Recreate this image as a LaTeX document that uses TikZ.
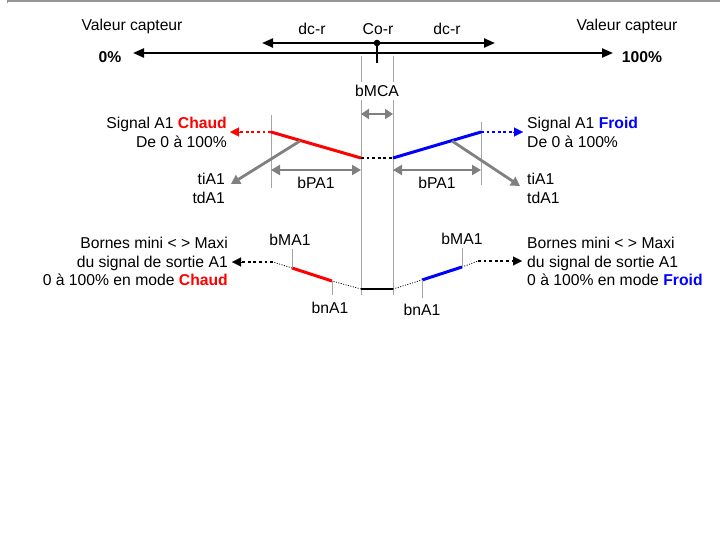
\documentclass[tikz,border=0pt]{standalone}
\usepackage{fontspec}
\setmainfont{Liberation Sans}
\usetikzlibrary{arrows.meta}
\definecolor{hotred}{RGB}{255,0,0}
\definecolor{coldblue}{RGB}{0,0,255}
\definecolor{dimgraytone}{RGB}{128,128,128}
\definecolor{guidegray}{RGB}{165,165,165}
\definecolor{framegray}{RGB}{150,150,150}
\newcommand{\lbl}{\fontsize{15.7}{18.8}\selectfont}
\tikzset{
  txt/.style={inner sep=0pt, font=\lbl},
  axisline/.style={line width=2.2pt},
  guide/.style={draw=guidegray, line width=0.9pt},
  dimline/.style={draw=dimgraytone, line width=2.8pt},
  ramp/.style={line width=3pt},
  dotsthick/.style={line width=2.8pt, dash pattern=on 2.8pt off 2.8pt},
  dotsthin/.style={line width=0.8pt, dash pattern=on 1pt off 1.5pt},
  tickmark/.style={draw=guidegray, line width=0.9pt},
}
\begin{document}
\begin{tikzpicture}[x=1pt,y=-1pt]
\useasboundingbox (0,0) rectangle (720,541);
% frame edge
\draw[framegray, line width=2pt] (7,1) -- (720,1);
\draw[framegray, line width=1pt] (7,0) -- (7,3);

% sensor axis
\coordinate (a0) at (133,53);
\coordinate (a100) at (613,53);
\draw[axisline, {Triangle[length=11pt,width=9pt]}-{Triangle[length=11pt,width=9pt]}] (a0) -- (a100);
\node[txt, font=\lbl\bfseries] (p0) at (110,57) {0\%};
\node[txt, font=\lbl\bfseries] (p100) at (642,57) {100\%};
\node[txt] (vl) at (132,26) {Valeur capteur};
\node[txt] (vr) at (627,26) {Valeur capteur};

% set point and differential
\coordinate (dcl) at (262,43);
\coordinate (dcr) at (495,43);
\coordinate (cor) at (377,43);
\coordinate (cort) at (377,63);
\draw[axisline, {Triangle[length=11pt,width=9pt]}-{Triangle[length=11pt,width=9pt]}] (dcl) -- (dcr);
\draw[line width=2.5pt] (cor) -- (cort);
\fill (cor) circle (3.3pt);
\node[txt] (lcor) at (378,29) {Co-r};
\node[txt] (ldcl) at (312,29) {dc-r};
\node[txt] (ldcr) at (447,29) {dc-r};

% dead band guides
\coordinate (g1t) at (361,56);
\coordinate (g1b) at (361,295);
\coordinate (g2t) at (393,56);
\coordinate (g2b) at (393,295);
\draw[guide] (g1t) -- (g1b);
\draw[guide] (g2t) -- (g2b);
\node[txt, fill=white, inner xsep=1pt, inner ysep=3pt] (bmca) at (377,91) {bMCA};
\coordinate (bm1) at (361,114);
\coordinate (bm2) at (393,114);
\draw[dimline, {Triangle[length=8pt,width=10pt]}-{Triangle[length=8pt,width=10pt]}] (bm1) -- (bm2);

% heating ramp
\coordinate (h0) at (271,132);
\coordinate (h1) at (361,158);
\coordinate (c0) at (393,158);
\coordinate (c1) at (481,132);
\draw[dotsthick] (h1) -- (c0);
\draw[guide] (271,115) -- (271,188);
\draw[hotred, ramp] (h0) -- (h1);
\coordinate (htip) at (230,132);
\draw[hotred, dotsthick] (h0) -- (240,132);
\draw[hotred, -{Triangle[length=9pt,width=9pt]}, line width=0.1pt] (240,132) -- (htip);
\node[txt, align=right, anchor=east] (sh) at (227,132.5) {Signal A1 \textcolor{hotred}{\bfseries Chaud}\\De 0 à 100\%};
\coordinate (hts) at (300,141);
\coordinate (hte) at (231,184);
\draw[dimline, -{Triangle[length=9pt,width=10pt]}] (hts) -- (hte);
\node[txt, align=right, anchor=east] (tih) at (225,188.5) {tiA1\\tdA1};
\coordinate (bph1) at (271,170);
\coordinate (bph2) at (361,170);
\draw[dimline, {Triangle[length=9pt,width=10pt]}-{Triangle[length=9pt,width=10pt]}] (bph1) -- (bph2);
\node[txt] (lbph) at (316,183) {bPA1};

% cooling ramp
\draw[guide] (481,122) -- (481,185);
\draw[coldblue, ramp] (c0) -- (c1);
\coordinate (ctip) at (523,132);
\draw[coldblue, dotsthick] (c1) -- (513,132);
\draw[coldblue, -{Triangle[length=9pt,width=9pt]}, line width=0.1pt] (513,132) -- (ctip);
\node[txt, align=left, anchor=west] (sc) at (527,132.5) {Signal A1 \textcolor{coldblue}{\bfseries Froid}\\De 0 à 100\%};
\coordinate (cts) at (452,141);
\coordinate (cte) at (520,186);
\draw[dimline, -{Triangle[length=9pt,width=10pt]}] (cts) -- (cte);
\node[txt, align=left, anchor=west] (tic) at (527,188.5) {tiA1\\tdA1};
\coordinate (bpc1) at (393,170);
\coordinate (bpc2) at (481,170);
\draw[dimline, {Triangle[length=9pt,width=10pt]}-{Triangle[length=9pt,width=10pt]}] (bpc1) -- (bpc2);
\node[txt] (lbpc) at (437,183) {bPA1};

% output limits
\coordinate (o1) at (361,289);
\coordinate (o2) at (393,289);
\draw[line width=2.5pt] (o1) -- (o2);
% heating side
\coordinate (hn) at (332,281);
\coordinate (hm) at (292,268);
\coordinate (hx) at (273,262);
\coordinate (hxt) at (232,262);
\draw[dotsthin] (o1) -- (hn);
\draw[hotred, ramp] (hn) -- (hm);
\draw[dotsthin] (hm) -- (hx);
\draw[dotsthick] (hx) -- (242,262);
\draw[-{Triangle[length=9pt,width=9pt]}, line width=0.1pt] (242,262) -- (hxt);
\draw[tickmark] (hm) -- (292,249);
\draw[tickmark] (hn) -- (332,295);
\node[txt] (lbmah) at (290,240) {bMA1};
\node[txt] (lbnah) at (330,308) {bnA1};
\node[txt, align=right, anchor=east] (bh) at (228,261.5) {Bornes mini < > Maxi\\du signal de sortie A1\\0 à 100\% en mode \textcolor{hotred}{\bfseries Chaud}};
% cooling side
\coordinate (cn) at (422,280);
\coordinate (cm) at (462,267);
\coordinate (cx) at (478,261);
\coordinate (cxt) at (522,261);
\draw[dotsthin] (o2) -- (cn);
\draw[coldblue, ramp] (cn) -- (cm);
\draw[dotsthin] (cm) -- (cx);
\draw[dotsthick] (cx) -- (512,261);
\draw[-{Triangle[length=9pt,width=9pt]}, line width=0.1pt] (512,261) -- (cxt);
\draw[tickmark] (cn) -- (422,298);
\draw[tickmark] (cm) -- (462,248);
\node[txt] (lbnac) at (422,310) {bnA1};
\node[txt] (lbmac) at (462,239) {bMA1};
\node[txt, align=left, anchor=west] (bc) at (527,261.5) {Bornes mini < > Maxi\\du signal de sortie A1\\0 à 100\% en mode \textcolor{coldblue}{\bfseries Froid}};
\end{tikzpicture}
\end{document}
